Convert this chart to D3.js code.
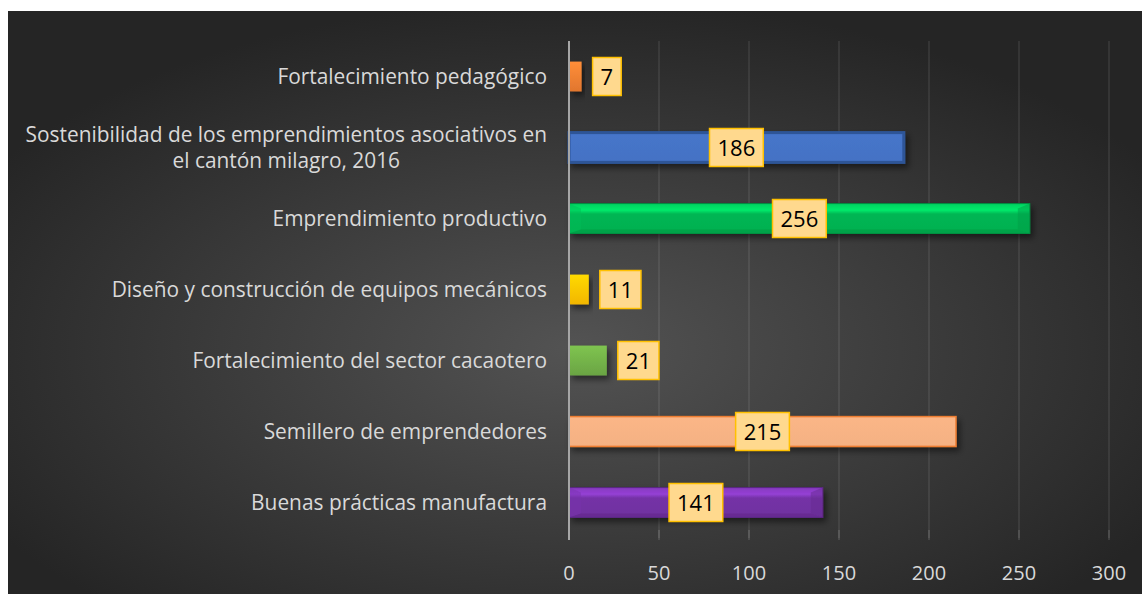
<!DOCTYPE html>
<html>
<head>
<meta charset="utf-8">
<script src="https://cdn.jsdelivr.net/npm/d3@7"></script>
<style>
  body { margin: 0; background: #fff; }
  svg { display: block; }
  .cat-label, .tick-label { fill: #d9d9d9; font-family: "Open Sans", sans-serif; }
  .val-label { fill: #000; font-family: "Open Sans", sans-serif; }
</style>
</head>
<body>
<svg id="chart" width="1142" height="594"></svg>
<script>
// Categories from top to bottom, as in the picture
var categories = [
  "Fortalecimiento pedagógico",
  "Sostenibilidad de los emprendimientos asociativos en|el cantón milagro, 2016",
  "Emprendimiento productivo",
  "Diseño y construcción de equipos mecánicos",
  "Fortalecimiento del sector cacaotero",
  "Semillero de emprendedores",
  "Buenas prácticas manufactura"
];
var values = [7, 186, 256, 11, 21, 215, 141];
var barColors = ["#ED7D31", "#4472C4", "#00B050", "#FFC000", "#70AD47", "#F4B183", "#7030A0"];
var barStyles = ["grad", "flat", "bevel", "grad", "grad", "flat", "bevel"];
var xTicks = [0, 50, 100, 150, 200, 250, 300];

var svg = d3.select("#chart");
var W = 1142, H = 594;
var margin = { left: 569, right: 33, top: 41, bottom: 56 };

var defs = svg.append("defs");

// Dark background with a lighter middle
var bg = defs.append("radialGradient")
  .attr("id", "bg")
  .attr("cx", "50%").attr("cy", "58%").attr("r", "60%");
bg.append("stop").attr("offset", "0%").attr("stop-color", "#535353");
bg.append("stop").attr("offset", "100%").attr("stop-color", "#252525");

svg.append("rect")
  .attr("x", 8).attr("y", 11)
  .attr("width", W - 8).attr("height", H - 11)
  .attr("fill", "url(#bg)");

// Drop shadow for bars
var shadow = defs.append("filter")
  .attr("id", "shadow")
  .attr("x", "-10%").attr("y", "-40%").attr("width", "130%").attr("height", "190%");
shadow.append("feDropShadow")
  .attr("dx", 3).attr("dy", 4).attr("stdDeviation", 3)
  .attr("flood-color", "#000").attr("flood-opacity", 0.5);

// Gradients per bar
barColors.forEach(function(c, i) {
  var g = defs.append("linearGradient")
    .attr("id", "barGrad" + i)
    .attr("x1", 0).attr("y1", 0).attr("x2", 0).attr("y2", 1);
  var base = d3.color(c);
  if (barStyles[i] === "bevel") {
    g.append("stop").attr("offset", "0%").attr("stop-color", base.brighter(0.5));
    g.append("stop").attr("offset", "22%").attr("stop-color", base.brighter(0.8));
    g.append("stop").attr("offset", "35%").attr("stop-color", base.brighter(0.1));
    g.append("stop").attr("offset", "100%").attr("stop-color", base);
  } else if (barStyles[i] === "grad") {
    g.append("stop").attr("offset", "0%").attr("stop-color", base.brighter(0.35));
    g.append("stop").attr("offset", "100%").attr("stop-color", base.darker(0.15));
  } else {
    g.append("stop").attr("offset", "0%").attr("stop-color", base.brighter(0.08));
    g.append("stop").attr("offset", "100%").attr("stop-color", base);
  }
});

var x = d3.scaleLinear()
  .domain([0, 300])
  .range([margin.left, W - margin.right]);

var y = d3.scaleBand()
  .domain(d3.range(categories.length))
  .range([margin.top, H - margin.bottom])
  .paddingInner(0.58)
  .paddingOuter(0.29);

var plotBottom = H - margin.bottom;

// Gridlines
svg.append("g").selectAll("line")
  .data(xTicks.slice(1))
  .enter().append("line")
  .attr("x1", function(d) { return x(d); })
  .attr("x2", function(d) { return x(d); })
  .attr("y1", margin.top)
  .attr("y2", plotBottom)
  .attr("stroke", "#ffffff")
  .attr("stroke-opacity", 0.1)
  .attr("stroke-width", 1.5);

// Small tick marks below the plot
svg.append("g").selectAll("line")
  .data(xTicks)
  .enter().append("line")
  .attr("x1", function(d) { return x(d); })
  .attr("x2", function(d) { return x(d); })
  .attr("y1", plotBottom - 8)
  .attr("y2", plotBottom + 2)
  .attr("stroke", function(d) { return d === 0 ? "#a6a6a6" : "#ffffff"; })
  .attr("stroke-opacity", function(d) { return d === 0 ? 1 : 0.15; })
  .attr("stroke-width", 1.5);

// Tick labels
svg.append("g").selectAll("text")
  .data(xTicks)
  .enter().append("text")
  .attr("class", "tick-label")
  .attr("x", function(d) { return x(d); })
  .attr("y", 580)
  .attr("text-anchor", "middle")
  .attr("font-size", 20)
  .text(function(d) { return d; });

// Bars
var bars = svg.append("g").selectAll("g")
  .data(values)
  .enter().append("g")
  .attr("filter", "url(#shadow)");

bars.append("rect")
  .attr("x", x(0))
  .attr("y", function(d, i) { return y(i); })
  .attr("width", function(d) { return x(d) - x(0); })
  .attr("height", y.bandwidth())
  .attr("fill", function(d, i) { return "url(#barGrad" + i + ")"; })
  .attr("stroke", function(d, i) {
    if (barStyles[i] === "flat") return i === 1 ? "#2F5597" : "#ED7D31";
    if (barStyles[i] === "bevel") return d3.color(barColors[i]).darker(0.6);
    return "none";
  })
  .attr("stroke-width", function(d, i) { return barStyles[i] === "flat" ? (i === 1 ? 3 : 1.5) : 1; });

// Bevelled ends for the bevel style bars
bars.each(function(d, i) {
  if (barStyles[i] !== "bevel") return;
  var g = d3.select(this);
  var x0 = x(0), x1 = x(d), y0 = y(i), y1 = y(i) + y.bandwidth();
  var b = 12, bt = 5, bb = 4;
  var base = d3.color(barColors[i]);
  g.append("path")
    .attr("d", "M" + x0 + "," + y0 + "L" + (x0 + b) + "," + (y0 + bt) + "L" + (x0 + b) + "," + (y1 - bb) + "L" + x0 + "," + y1 + "Z")
    .attr("fill", base.brighter(0.2)).attr("opacity", 0.45);
  g.append("path")
    .attr("d", "M" + x1 + "," + y0 + "L" + (x1 - b) + "," + (y0 + bt) + "L" + (x1 - b) + "," + (y1 - bb) + "L" + x1 + "," + y1 + "Z")
    .attr("fill", base.darker(0.3)).attr("opacity", 0.5);
  g.append("path")
    .attr("d", "M" + x0 + "," + y1 + "L" + (x0 + b) + "," + (y1 - bb) + "L" + (x1 - b) + "," + (y1 - bb) + "L" + x1 + "," + y1 + "Z")
    .attr("fill", base.darker(0.4)).attr("opacity", 0.6);
});

// Axis line at zero
svg.append("line")
  .attr("x1", x(0)).attr("x2", x(0))
  .attr("y1", margin.top).attr("y2", plotBottom + 2)
  .attr("stroke", "#a6a6a6")
  .attr("stroke-width", 2);

// Category labels (fit the longest one into the space left of the axis)
var labelRight = 547;
var catFont = 19.5;
var cats = svg.append("g").selectAll("text")
  .data(categories)
  .enter().append("text")
  .attr("class", "cat-label")
  .attr("text-anchor", "middle")
  .attr("font-size", catFont);

cats.each(function(d) {
  var t = d3.select(this);
  d.split("|").forEach(function(l) {
    t.append("tspan").attr("dy", "0.35em").text(l);
  });
});

// Shrink to fit the widest line into the available width
var maxW = 0;
cats.selectAll("tspan").each(function() { maxW = Math.max(maxW, this.getComputedTextLength()); });
var target = labelRight - 25;
if (maxW > 0) {
  catFont = catFont * target / maxW;
  cats.attr("font-size", catFont);
}
// Position: each label block right aligned at labelRight, lines centred in the block
cats.each(function(d, i) {
  var t = d3.select(this);
  var lines = d.split("|");
  var cy = y(i) + y.bandwidth() / 2;
  var lh = catFont * 1.22;
  var widths = [];
  t.selectAll("tspan").each(function() { widths.push(this.getComputedTextLength()); });
  var blockW = d3.max(widths);
  t.selectAll("tspan")
    .attr("x", labelRight - blockW / 2)
    .attr("y", function(dd, k) { return cy + (k - (lines.length - 1) / 2) * lh; });
});

// Value labels in boxes
var labels = svg.append("g").selectAll("g")
  .data(values)
  .enter().append("g");

labels.each(function(d, i) {
  var g = d3.select(this);
  var txt = g.append("text")
    .attr("class", "val-label")
    .attr("font-size", 22)
    .attr("text-anchor", "middle")
    .attr("dy", "0.35em")
    .text(d);
  var tw = txt.node().getComputedTextLength();
  var bw = tw + 16, bh = 38;
  var barW = x(d) - x(0);
  var cx = barW > bw + 20 ? (x(0) + x(d)) / 2 : x(d) + 11 + bw / 2;
  var cy = y(i) + y.bandwidth() / 2;
  g.insert("rect", "text")
    .attr("x", cx - bw / 2).attr("y", cy - bh / 2)
    .attr("width", bw).attr("height", bh)
    .attr("fill", "#FFD98E")
    .attr("stroke", "#FFC000")
    .attr("stroke-width", 1.5);
  txt.attr("x", cx).attr("y", cy + 1);
});
</script>
</body>
</html>
